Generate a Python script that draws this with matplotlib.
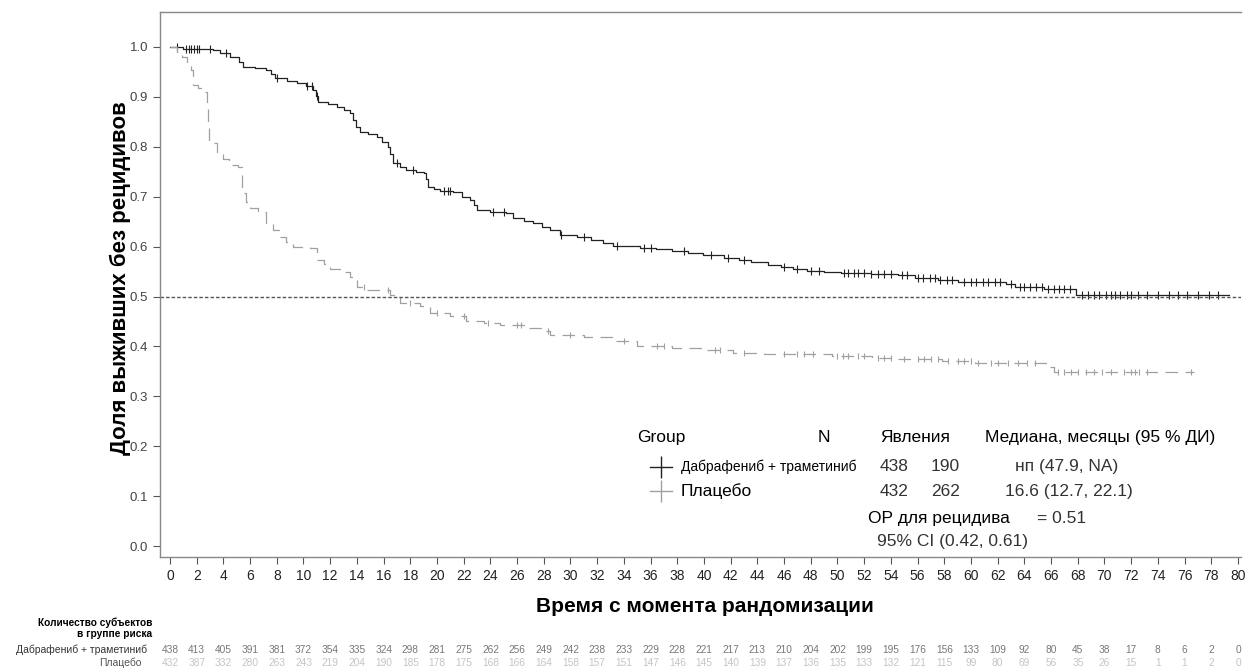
import numpy as np
import matplotlib
matplotlib.use("Agg")
import matplotlib.pyplot as plt
from matplotlib.lines import Line2D
import matplotlib.transforms as mtransforms

plt.rcParams['font.family'] = ['Liberation Sans', 'DejaVu Sans']

# Кривые Каплана-Мейера (момент ступеньки, доля после неё)
dab_t = [0, 1.0, 3.2, 3.75, 4.5, 5.2, 5.5, 6.4, 7.2, 7.6, 7.9, 8.8, 9.5, 10.2, 10.7, 10.9, 11.1,
         11.8, 12.5, 13.0, 13.5, 13.7, 13.9, 14.2, 14.8, 15.5, 15.9, 16.3, 16.5, 16.7, 17.2,
         17.7, 18.4, 19.0, 19.2, 19.3, 19.8, 20.2, 21.2, 21.9, 22.5, 22.8, 23.0, 24.0, 25.2,
         25.7, 26.5, 27.2, 27.9, 28.5, 29.2, 30.5, 31.5, 32.4, 33.2, 35.2, 36.4, 37.6, 38.8,
         39.9, 41.5, 42.6, 43.5, 44.8, 45.8, 46.7, 47.7, 49.0, 50.3, 52.5, 54.5, 55.8, 57.5,
         59.0, 62.6, 63.3, 65.5, 67.9, 79.3]
dab_s = [1.0, 0.995, 0.993, 0.987, 0.979, 0.97, 0.96, 0.957, 0.954, 0.945, 0.937, 0.932, 0.927,
         0.922, 0.914, 0.902, 0.89, 0.885, 0.88, 0.873, 0.867, 0.853, 0.84, 0.83, 0.825, 0.82,
         0.81, 0.80, 0.785, 0.767, 0.76, 0.753, 0.75, 0.747, 0.735, 0.72, 0.716, 0.712, 0.71,
         0.70, 0.693, 0.683, 0.673, 0.67, 0.667, 0.657, 0.652, 0.647, 0.64, 0.633, 0.623, 0.620,
         0.613, 0.607, 0.601, 0.597, 0.595, 0.592, 0.587, 0.583, 0.577, 0.573, 0.570, 0.563,
         0.559, 0.556, 0.552, 0.550, 0.548, 0.546, 0.543, 0.538, 0.534, 0.530, 0.526, 0.520,
         0.516, 0.503, 0.503]

pla_t = [0, 0.5, 0.9, 1.3, 1.6, 1.75, 2.1, 2.5, 2.75, 2.85, 2.9, 3.5, 4.0, 4.4, 5.1, 5.4, 5.7,
         6.0, 6.6, 7.2, 7.7, 8.2, 8.7, 9.2, 10.5, 11.0, 11.5, 12.0, 12.7, 13.5, 14.0, 14.7,
         16.0, 16.5, 17.2, 18.7, 19.5, 21.0, 22.2, 23.5, 24.7, 26.7, 28.0, 28.5, 31.0, 33.1,
         35.0, 37.6, 39.9, 42.2, 44.5, 49.6, 52.6, 54.5, 57.8, 60.3, 65.8, 66.2, 76.7]
pla_s = [1.0, 0.99, 0.98, 0.965, 0.954, 0.924, 0.917, 0.91, 0.877, 0.84, 0.807, 0.787, 0.775,
         0.764, 0.76, 0.707, 0.69, 0.677, 0.67, 0.647, 0.633, 0.62, 0.61, 0.60, 0.597, 0.573,
         0.565, 0.556, 0.55, 0.54, 0.52, 0.514, 0.513, 0.503, 0.486, 0.48, 0.467, 0.46, 0.45,
         0.446, 0.443, 0.436, 0.43, 0.423, 0.419, 0.41, 0.40, 0.397, 0.393, 0.387, 0.384, 0.38,
         0.376, 0.374, 0.371, 0.366, 0.359, 0.348, 0.348]

# Цензурированные наблюдения
dab_cens = [0.5, 1.2, 1.4, 1.6, 1.8, 2.0, 2.2, 3.0, 4.2, 8.0, 10.3, 10.6, 11.0, 17.0, 18.2,
            20.5, 20.8, 21.0, 24.2, 25.0, 29.3, 31.0, 33.5, 35.5, 36.0, 38.5, 40.5, 41.8, 43.0,
            46.0, 47.0, 48.0, 48.6, 50.5, 50.8, 51.2, 51.5, 52.0, 52.5, 53.0, 53.5, 54.0, 54.8,
            55.2, 56.0, 56.4, 56.9, 57.3, 57.7, 58.2, 58.6, 59.5, 60.0, 60.4, 60.9, 61.3, 61.8,
            62.2, 63.0, 63.7, 64.0, 64.4, 64.9, 65.3, 65.8, 66.2, 66.6, 67.0, 67.4, 68.3, 68.8,
            69.2, 69.6, 70.1, 70.5, 70.8, 71.2, 71.7, 72.0, 72.5, 73.2, 74.0, 74.8, 75.5, 76.2,
            77.0, 77.8, 78.5]
pla_cens = [14.5, 16.3, 18.0, 20.0, 22.0, 23.8, 26.0, 26.3, 28.3, 30.0, 34.0, 36.5, 37.0,
            40.8, 41.2, 43.0, 46.0, 47.0, 47.5, 48.2, 50.0, 50.4, 50.8, 51.5, 52.0, 53.0, 53.5,
            54.0, 55.0, 56.0, 56.5, 57.0, 57.5, 58.3, 59.0, 59.5, 60.0, 60.5, 61.5, 62.0, 62.8,
            63.5, 64.2, 64.8, 66.5, 67.0, 67.5, 68.0, 68.6, 69.2, 69.8, 70.5, 71.5, 72.0, 72.3,
            72.6, 73.2, 76.5]

# Число пациентов в группе риска
risk_times = list(range(0, 81, 2))
dab_risk = [438, 413, 405, 391, 381, 372, 354, 335, 324, 298, 281, 275, 262, 256, 249, 242,
            238, 233, 229, 228, 221, 217, 213, 210, 204, 202, 199, 195, 176, 156, 133, 109,
            92, 80, 45, 38, 17, 8, 6, 2, 0]
pla_risk = [432, 387, 332, 280, 263, 243, 219, 204, 190, 185, 178, 175, 168, 166, 164, 158,
            157, 151, 147, 146, 145, 140, 139, 137, 136, 135, 133, 132, 121, 115, 99, 80,
            69, 56, 35, 26, 15, 1, 1, 2, 0]

dab_label = "Дабрафениб + траметиниб"
pla_label = "Плацебо"


def level_at(t_steps, s_steps, times):
    idx = np.searchsorted(t_steps, times, side='right') - 1
    return np.array(s_steps)[idx]


fig = plt.figure(figsize=(12.45, 6.69), dpi=100)
ax = fig.add_axes([0.1285, 0.1674, 0.868, 0.8146])

dab_col = '#222222'
pla_col = '#a0a0a0'

ax.step(dab_t, dab_s, where='post', color=dab_col, lw=0.9)
ax.plot(dab_cens, level_at(dab_t, dab_s, dab_cens), ls='none', marker='|',
        ms=6, mew=0.8, color=dab_col)
ax.step(pla_t, pla_s, where='post', color=pla_col, lw=0.9, dashes=(10, 6))
ax.plot(pla_cens, level_at(pla_t, pla_s, pla_cens), ls='none', marker='|',
        ms=5, mew=0.8, color=pla_col)

ax.axhline(0.5, color='#555555', lw=1.0, dashes=(2.5, 1.5))

ax.set_xlim(-0.75, 80.2)
ax.set_ylim(-0.022, 1.07)
ax.set_xticks(risk_times)
ax.set_yticks(np.arange(0, 1.01, 0.1))
ax.set_yticklabels([f"{v:.1f}" for v in np.arange(0, 1.01, 0.1)])
ax.tick_params(axis='both', colors='#555555', length=5, width=0.8)
ax.tick_params(axis='x', labelsize=10, labelcolor='#222222')
ax.tick_params(axis='y', labelsize=9.5, labelcolor='#444444')
for side in ['left', 'bottom', 'top']:
    ax.spines[side].set_color('#888888')
    ax.spines[side].set_linewidth(1.0)
ax.spines['right'].set_visible(False)

fig.text(0.097, 0.585, "Доля выживших без рецидивов", rotation=90, fontsize=16,
         fontweight='bold', ha='center', va='center')
fig.text(0.566, 0.094, "Время с момента рандомизации", fontsize=15, fontweight='bold',
         ha='center', va='center')

# Таблица риска
fig.text(0.122, 0.061, "Количество субъектов\nв группе риска", fontsize=7.3, fontweight='bold',
         ha='right', va='center', linespacing=1.1)
fig.text(0.118, 0.0284, dab_label, fontsize=7.5, ha='right', va='center', color='#333333')
fig.text(0.114, 0.009, pla_label, fontsize=7.5, ha='right', va='center', color='#555555')
trans = mtransforms.blended_transform_factory(ax.transData, fig.transFigure)
for t, a, b in zip(risk_times, dab_risk, pla_risk):
    fig.text(t, 0.0284, str(a), transform=trans, fontsize=7.3, ha='center', va='center',
             color='#777777')
    fig.text(t, 0.009, str(b), transform=trans, fontsize=7.3, ha='center', va='center',
             color='#c4c4c4')

# Легенда и статистика
fs = 12.5
hdr_y = 0.3453
fig.text(0.5116, hdr_y, "Group", fontsize=fs, va='center')
fig.text(0.657, hdr_y, "N", fontsize=fs, va='center')
fig.text(0.7068, hdr_y, "Явления", fontsize=fs, va='center')
fig.text(0.7912, hdr_y, "Медиана, месяцы (95 % ДИ)", fontsize=fs, va='center')

rows = [(0.302, dab_col, dab_label, 10, "438", "190", "нп (47.9, NA)", 0.8153),
        (0.266, pla_col, pla_label, fs, "432", "262", "16.6 (12.7, 22.1)", 0.8072)]
for y, col, lab, lfs, n, ev, med, mx in rows:
    fig.add_artist(Line2D([0.522, 0.540], [y, y], transform=fig.transFigure, color=col, lw=1.0))
    fig.add_artist(Line2D([0.531], [y], transform=fig.transFigure, color=col, marker='|',
                          ms=16, mew=1.0))
    fig.text(0.547, y, lab, fontsize=lfs, va='center')
    fig.text(0.7068, y, n, fontsize=fs, va='center', color='#333333')
    fig.text(0.7478, y, ev, fontsize=fs, va='center', color='#333333')
    fig.text(mx, y, med, fontsize=fs, va='center', color='#333333')

fig.text(0.697, 0.2257, "ОР для рецидива", fontsize=fs, va='center')
fig.text(0.833, 0.2257, "= 0.51", fontsize=fs, va='center', color='#333333')
fig.text(0.7044, 0.19, "95% CI (0.42, 0.61)", fontsize=fs, va='center', color='#333333')

fig.savefig("out.png", dpi=100)
